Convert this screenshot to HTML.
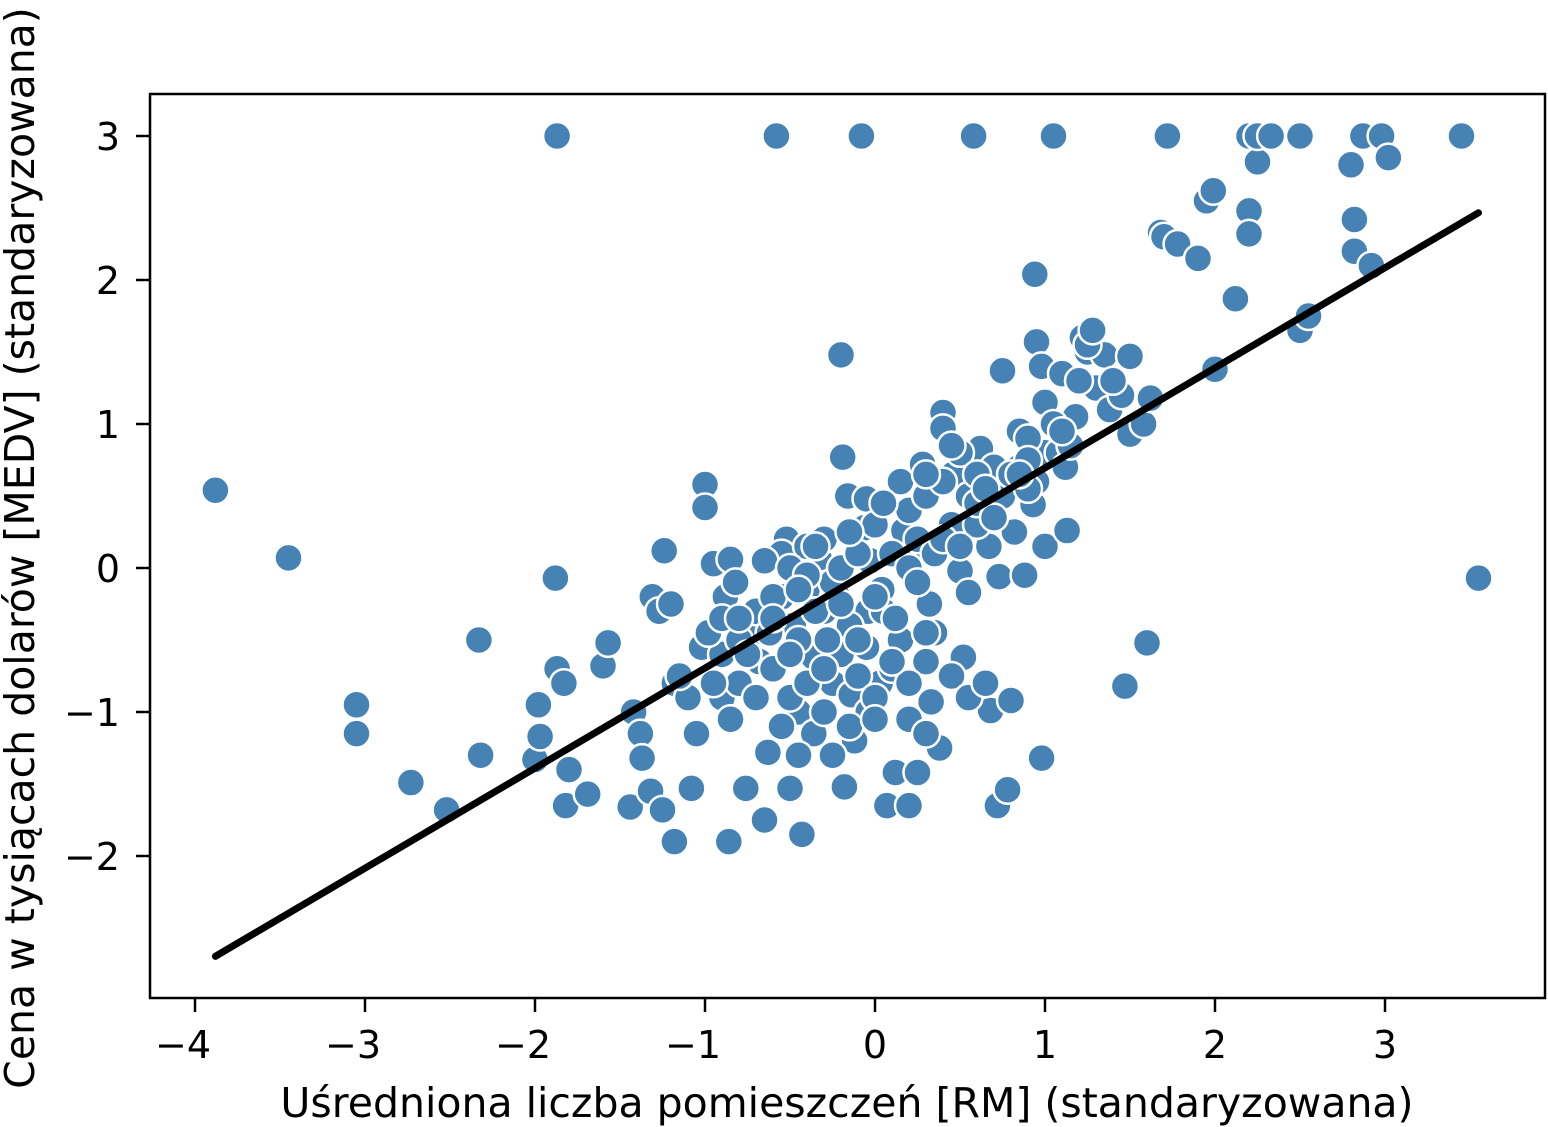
<!DOCTYPE html>
<html><head><meta charset="utf-8"><style>
html,body{margin:0;padding:0;background:#fff;}
svg{display:block;font-family:"DejaVu Sans","Liberation Sans",sans-serif;}
</style></head><body>
<svg id="chart" width="1548" height="1127" viewBox="0 0 1548 1127">
<g id="pts"></g>
<g id="fit"></g>
<rect x="150" y="94" width="1395" height="904" fill="none" stroke="#000" stroke-width="2.5"/>
<g id="xt"></g>
<g id="yt"></g>
<text x="847" y="1117" font-size="41" text-anchor="middle">Uśredniona liczba pomieszczeń [RM] (standaryzowana)</text>
<text transform="translate(34,548) rotate(-90)" font-size="41" text-anchor="middle">Cena w tysiącach dolarów [MEDV] (standaryzowana)</text>
</svg>
<script>
const xs = [-3.88,-3.45,-3.05,-3.05,-2.73,-2.52,-2.33,-2.32,-2.0,-1.97,-1.98,-1.88,-1.87,-1.87,-1.83,-1.8,-1.82,-1.69,-1.6,-1.57,-1.44,-1.42,-1.38,-1.37,-1.32,-1.31,-1.27,-1.25,-1.24,-1.2,-1.18,-1.18,-1.08,-1.05,-1.0,-1.0,-1.02,-0.95,-0.9,-0.88,-0.86,-0.85,-0.82,-0.8,-0.76,-0.72,-0.68,-0.65,-0.63,-0.58,-0.55,-0.52,-0.5,-0.48,-0.45,-0.43,-0.4,-0.36,-0.36,-0.33,-0.3,-0.25,-0.22,-0.2,-0.19,-0.18,-0.16,-0.14,-0.12,-0.08,-0.06,-0.05,-0.04,-0.04,-0.03,0.03,0.04,0.07,0.12,0.15,0.17,0.2,0.2,0.22,0.25,0.28,0.3,0.32,0.33,0.38,0.4,0.4,0.46,0.5,0.52,0.55,0.58,0.6,0.62,0.65,0.67,0.68,0.72,0.73,0.75,0.78,0.8,0.8,0.82,0.85,0.88,0.93,0.94,0.95,0.98,0.98,1.0,1.0,1.0,1.05,1.08,1.12,1.13,1.18,1.22,1.25,1.3,1.35,1.38,1.45,1.47,1.5,1.5,1.58,1.6,1.62,1.68,1.7,1.72,1.78,1.9,1.95,1.99,2.0,2.12,2.2,2.2,2.2,2.25,2.25,2.33,2.5,2.5,2.55,2.8,2.82,2.82,2.87,2.92,2.98,3.02,3.45,3.55,
-0.7,-0.6,-0.55,-0.45,-0.4,-0.35,-0.3,-0.25,-0.2,-0.15,-0.1,-0.05,0.0,0.05,0.1,0.15,0.2,0.25,0.3,0.35,0.4,0.45,0.5,0.55,0.6,0.7,0.75,0.85,0.9,0.95,1.05,1.1,1.15,1.2,-0.9,-0.8,-0.7,-0.6,-0.5,-0.4,-0.3,-0.2,-0.1,0.0,0.1,0.2,0.3,0.45,0.55,0.65,-0.95,-0.85,-0.75,-0.55,-0.45,-0.25,-0.15,0.0,-1.1,-1.15,-0.65,-0.5,-0.35,-0.15,0.05,0.3,0.45,0.6,0.9,1.1,-0.98,-0.9,-0.62,-0.28,0.12,0.35,
-0.6,-0.4,-0.2,0.0,0.2,0.4,0.6,0.8,-0.5,-0.3,-0.1,0.1,0.3,0.5,0.7,0.9,1.25,1.28,1.4,-0.8,-0.45,0.25,0.65,0.85];
const ys = [0.54,0.07,-0.95,-1.15,-1.49,-1.68,-0.5,-1.3,-1.33,-1.17,-0.95,-0.07,3.0,-0.7,-0.8,-1.4,-1.65,-1.57,-0.68,-0.52,-1.66,-1.0,-1.15,-1.32,-1.55,-0.2,-0.3,-1.68,0.12,-0.25,-0.8,-1.9,-1.53,-1.15,0.58,0.42,-0.55,0.03,-0.9,-0.2,-1.9,0.06,-0.1,-0.8,-1.53,-0.45,-0.65,-1.75,-1.28,3.0,-0.2,0.2,-1.53,-0.4,-1.0,-1.85,-0.15,-1.15,-0.62,0.07,-0.3,-0.8,-0.2,1.48,0.77,-1.52,0.5,-0.88,-1.2,3.0,0.28,0.48,-0.3,-1.0,0.05,-0.8,-0.15,-1.65,-1.42,0.6,0.26,-1.05,-1.65,0.06,-1.42,0.72,-0.65,-0.25,-0.93,-1.25,1.08,0.97,0.65,-0.02,-0.62,-0.17,3.0,-0.9,0.83,0.4,0.15,-0.99,-1.65,-0.06,1.37,-1.54,-0.92,0.55,0.25,0.95,-0.05,0.44,2.04,1.57,1.4,-1.32,0.8,1.15,0.15,3.0,0.8,0.7,0.26,1.05,1.6,1.5,1.25,1.48,1.1,1.2,-0.82,0.93,1.47,1.0,-0.52,1.18,2.33,2.3,3.0,2.25,2.15,2.55,2.62,1.38,1.87,3.0,2.48,2.32,2.82,3.0,3.0,3.0,1.65,1.75,2.8,2.42,2.2,3.0,2.1,3.0,2.85,3.0,-0.07,
-0.3,-0.2,0.1,-0.5,0.15,-0.3,0.2,-0.1,0.0,-0.4,0.1,-0.55,0.3,-0.3,0.1,-0.5,0.4,0.2,0.5,0.1,0.6,0.3,0.8,0.5,0.3,0.7,0.5,0.7,0.9,0.6,1.0,1.35,0.85,1.3,-0.6,-0.5,-0.9,-0.7,-0.9,-0.8,-1.0,-0.6,-0.75,-0.9,-0.7,-0.8,-1.15,-0.75,-0.9,-0.8,-0.8,-1.05,-0.6,-1.1,-1.3,-1.3,-1.1,-1.05,-0.9,-0.75,0.05,0.0,0.15,0.25,0.45,0.65,0.85,0.65,0.55,0.95,-0.45,-0.35,-0.45,-0.5,-0.35,-0.45,
-0.35,-0.05,-0.25,-0.2,0.0,0.2,0.45,0.65,-0.6,-0.7,-0.5,-0.65,-0.45,0.15,0.35,0.75,1.55,1.65,1.3,-0.35,-0.15,-0.1,0.55,0.65];
const lineX = [-3.88, 3.55];
const slope = 0.695;
const intercept = 0.0;
const xTicks = [-4,-3,-2,-1,0,1,2,3];
const yTicks = [-2,-1,0,1,2,3];

const NS = "http://www.w3.org/2000/svg";
const sx = v => 875 + v*170;
const sy = v => 568 - v*144;
const fmt = v => v < 0 ? "\u2212" + Math.abs(v) : String(v);

const pts = document.getElementById('pts');
xs.forEach((x,i) => {
  const c = document.createElementNS(NS,'circle');
  c.setAttribute('cx', sx(x)); c.setAttribute('cy', sy(ys[i]));
  c.setAttribute('r', 14); c.setAttribute('fill', '#4682b4');
  c.setAttribute('stroke', '#fff'); c.setAttribute('stroke-width', 2.5);
  
  
  pts.appendChild(c);
});

const fit = document.getElementById('fit');
const ln = document.createElementNS(NS,'line');
ln.setAttribute('x1', sx(lineX[0])); ln.setAttribute('y1', sy(slope*lineX[0]+intercept));
ln.setAttribute('x2', sx(lineX[1])); ln.setAttribute('y2', sy(slope*lineX[1]+intercept));
ln.setAttribute('stroke', '#000'); ln.setAttribute('stroke-width', 7); ln.setAttribute('stroke-linecap', 'round');


fit.appendChild(ln);

const xt = document.getElementById('xt');
xTicks.forEach(v => {
  const t = document.createElementNS(NS,'line');
  t.setAttribute('x1', sx(v)); t.setAttribute('x2', sx(v)); t.setAttribute('y1', 998); t.setAttribute('y2', 1012);
  t.setAttribute('stroke', '#000'); t.setAttribute('stroke-width', 2.5);
  
  
  xt.appendChild(t);
  const l = document.createElementNS(NS,'text');
  l.setAttribute('x', sx(v) - (v<0?12:0)); l.setAttribute('y', 1058);
  l.setAttribute('font-size', 38); l.setAttribute('text-anchor', 'middle');
  l.textContent = fmt(v);
  
  
  xt.appendChild(l);
});

const yt = document.getElementById('yt');
yTicks.forEach(v => {
  const t = document.createElementNS(NS,'line');
  t.setAttribute('x1', 136); t.setAttribute('x2', 150); t.setAttribute('y1', sy(v)); t.setAttribute('y2', sy(v));
  t.setAttribute('stroke', '#000'); t.setAttribute('stroke-width', 2.5);
  
  
  yt.appendChild(t);
  const l = document.createElementNS(NS,'text');
  l.setAttribute('x', 120); l.setAttribute('y', sy(v) + 14);
  l.setAttribute('font-size', 38); l.setAttribute('text-anchor', 'end');
  l.textContent = fmt(v);
  
  
  yt.appendChild(l);
});
</script>
</body></html>
